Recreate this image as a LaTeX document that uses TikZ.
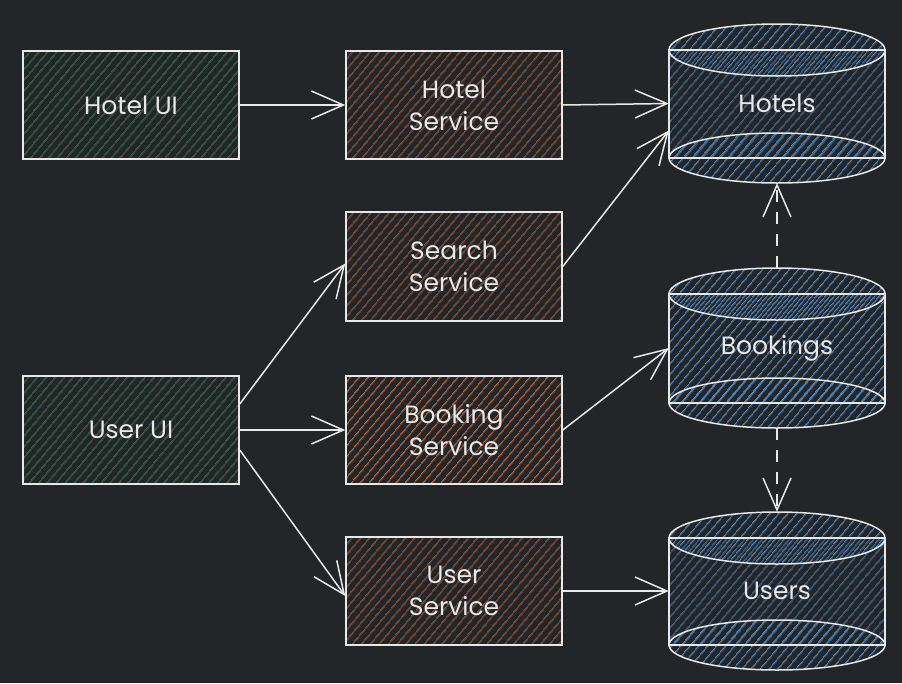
\documentclass[tikz,border=0pt]{standalone}
\usepackage{fontspec}
\setmainfont{Poppins}
\usetikzlibrary{arrows.meta,patterns.meta,calc}
\definecolor{bg}{RGB}{35,38,41}
\definecolor{ink}{RGB}{232,232,232}
\definecolor{hgreen}{RGB}{45,130,62}
\definecolor{horange}{RGB}{210,88,30}
\definecolor{hblue}{RGB}{62,135,210}
\newcommand\dbshape[3]{%
  \fill[hatch, pattern color=hblue] (#1,#2+26) ellipse[x radius=108,y radius=26];
  \fill[hatch, pattern color=hblue] (#1-108,#2+26) rectangle (#1+108,#3-25);
  \fill[hatch, pattern color=hblue] (#1,#3-25) ellipse[x radius=108,y radius=25];
  \draw[outline] (#1,#2+26) ellipse[x radius=108,y radius=26];
  \draw[outline] (#1,#3-25) ellipse[x radius=108,y radius=25];
  \draw[outline] (#1-108,#2+26) rectangle (#1+108,#3-25);
}
\begin{document}
\begin{tikzpicture}[x=1pt,y=-1pt,
  hatch/.style={pattern={Lines[angle=50,distance=6.5pt,line width=0.8pt]}},
  outline/.style={draw=ink, line width=1.5pt},
  label/.style={text=ink, font=\fontsize{25}{32}\selectfont, align=center},
  box/.style={outline, label, hatch, minimum width=216pt, minimum height=108pt, inner sep=0pt},
  ui/.style={box, pattern color=hgreen},
  svc/.style={box, pattern color=horange},
  db/.style={label, minimum width=216pt, inner sep=0pt},
  arr/.style={draw=ink, line width=1.5pt, -{Straight Barb[length=32pt,width=28pt]}},
  dasharr/.style={arr, dash pattern=on 12pt off 10pt}
]
\fill[bg] (0,0) rectangle (902,683);
\useasboundingbox (0,0) rectangle (902,683);

% databases
\dbshape{777}{24}{183}
\dbshape{777}{268}{428}
\dbshape{777}{512}{670}
\node[db, minimum height=159pt] (hotels) at (777,103.5) {Hotels};
\node[db, minimum height=160pt] (bookings) at (777,348) {Bookings};
\node[db, minimum height=158pt] (users) at (777,591) {Users};

% boxes
\node[ui] (hotelui) at (131,105) {Hotel UI};
\node[ui] (userui) at (131,430) {User UI};
\node[svc] (hotelsvc) at (454,105) {Hotel\\Service};
\node[svc, minimum height=109pt] (searchsvc) at (454,266.5) {Search\\Service};
\node[svc] (booksvc) at (454,430) {Booking\\Service};
\node[svc] (usersvc) at (454,591) {User\\Service};

% connectors
\draw[arr] (hotelui.east) -- (hotelsvc.west);
\draw[arr] (hotelsvc.east) -- (hotels.west);
\draw[arr] (searchsvc.east) -- ($(hotels.west)+(0,27)$);
\draw[arr] ($(userui.east)+(0,-26)$) -- ($(searchsvc.west)+(0,-3)$);
\draw[arr] (userui.east) -- (booksvc.west);
\draw[arr] ($(userui.east)+(0,20)$) -- ($(usersvc.west)+(0,5)$);
\draw[arr] (booksvc.east) -- (bookings.west);
\draw[arr] (usersvc.east) -- (users.west);
\draw[dasharr] (bookings.north) -- (hotels.south);
\draw[dasharr] (bookings.south) -- (users.north);
\end{tikzpicture}
\end{document}
